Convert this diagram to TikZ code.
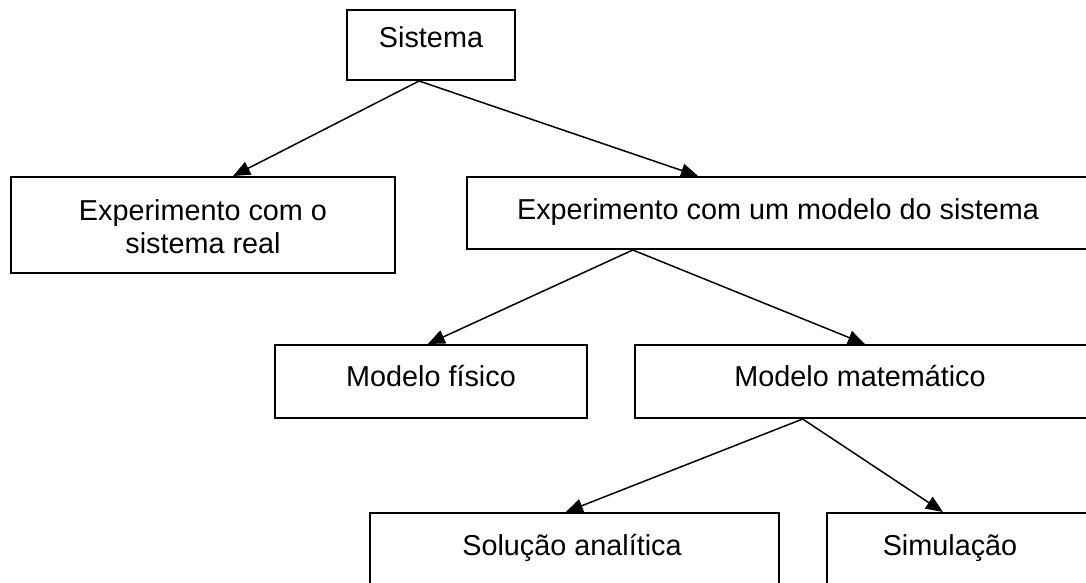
\documentclass[tikz,border=0pt]{standalone}
\usepackage{fontspec}
\setmainfont{Liberation Sans}
\usetikzlibrary{arrows.meta,calc}
\begin{document}
\begin{tikzpicture}[x=1pt,y=-1pt,
  box/.style={draw,line width=2pt,inner sep=0pt,rectangle},
  lbl/.style={anchor=base,inner sep=0pt,font=\fontsize{28.8}{33}\selectfont},
  arr/.style={line width=1.5pt,-{Triangle[length=17pt,width=14pt]}}]
\useasboundingbox (0,0) rectangle (1086,582);
\clip (0,0) rectangle (1086,582);
% boxes
\node[box,minimum width=168pt,minimum height=70pt] (sis) at (431,45) {};
\node[box,minimum width=384pt,minimum height=96pt] (real) at (203,225) {};
\node[box,minimum width=625pt,minimum height=72pt] (mod) at (779.5,213) {};
\node[box,minimum width=312pt,minimum height=73pt] (fis) at (431,381.5) {};
\node[box,minimum width=460pt,minimum height=73pt] (mat) at (865,381.5) {};
\node[box,minimum width=409pt,minimum height=87pt] (sol) at (574.5,556.5) {};
\node[box,minimum width=268pt,minimum height=87pt] (sim) at (961,556.5) {};
% texts
\node[lbl] (sisT) at (431,47) {Sistema};
\node[lbl] (realA) at (203,220) {Experimento com o};
\node[lbl] (realB) at (203,253) {sistema real};
\node[lbl] (modT) at (778,219) {Experimento com um modelo do sistema};
\node[lbl] (fisT) at (431,386) {Modelo físico};
\node[lbl] (matT) at (860,386) {Modelo matemático};
\node[lbl] (solT) at (572,555) {Solução analítica};
\node[lbl] (simT) at (950,555) {Simulação};
% connectors
\draw[arr] ($(sis.south west)!0.43!(sis.south east)$) -- ($(real.north west)!0.578!(real.north east)$);
\draw[arr] ($(sis.south west)!0.43!(sis.south east)$) -- ($(mod.north west)!0.37!(mod.north east)$);
\draw[arr] ($(mod.south west)!0.266!(mod.south east)$) -- ($(fis.north west)!0.49!(fis.north east)$);
\draw[arr] ($(mod.south west)!0.266!(mod.south east)$) -- ($(mat.north west)!0.5!(mat.north east)$);
\draw[arr] ($(mat.south west)!0.365!(mat.south east)$) -- ($(sol.north west)!0.479!(sol.north east)$);
\draw[arr] ($(mat.south west)!0.365!(mat.south east)$) -- ($(sim.north west)!0.433!(sim.north east)$);
\end{tikzpicture}
\end{document}
